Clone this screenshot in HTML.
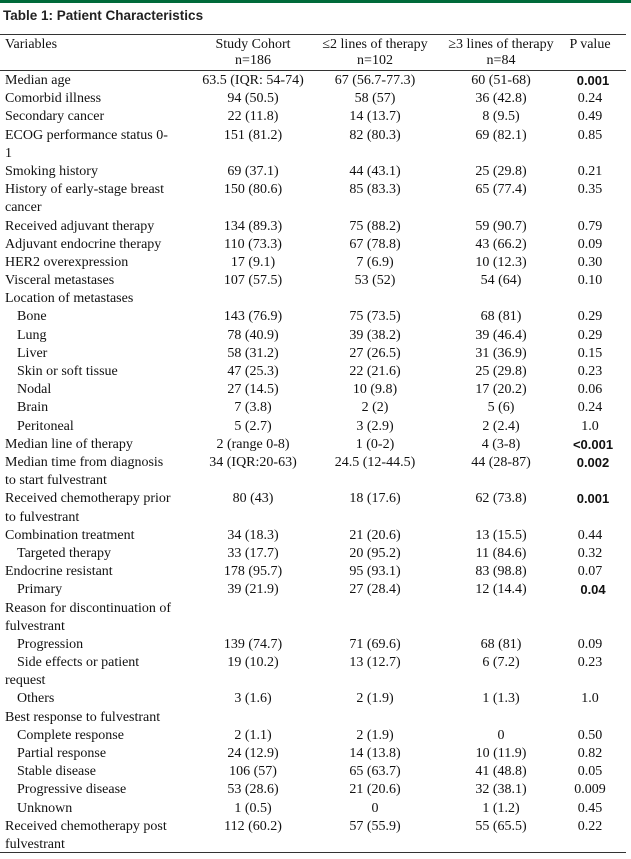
<!DOCTYPE html>
<html><head><meta charset="utf-8"><style>
body{margin:0;width:631px;height:859px;background:#fff;position:relative;overflow:hidden;font-family:"Liberation Serif",serif;font-size:14px;color:#111}
.bar{position:absolute;left:0;top:0;width:631px;height:3px;background:#006a3a}
.title{position:absolute;left:3px;top:8px;font-family:"Liberation Sans",sans-serif;font-weight:bold;font-size:13.5px;color:#222}
.hl{position:absolute;left:0;width:626px;height:1px;background:#333}
.r{position:absolute;left:0;width:631px;height:18.2px;line-height:18.2px;white-space:nowrap}
.r span{position:absolute;top:0}
.a{left:5px}.i{left:17px}
.c1{left:183px;width:140px;text-align:center}
.c2{left:315px;width:120px;text-align:center}
.c3{left:436px;width:130px;text-align:center}
.c4{left:562px;width:56px;text-align:center}
.c4 b{position:relative;left:3px}
b{font-family:"Liberation Sans",sans-serif;font-size:13px}
</style></head><body>
<div class="bar"></div>
<div class="title">Table 1: Patient Characteristics</div>
<div class="hl" style="top:34px"></div>
<div class="r" style="top:36px"><span class="a">Variables</span><span class="c1">Study Cohort</span><span class="c2">≤2 lines of therapy</span><span class="c3">≥3 lines of therapy</span><span class="c4">P value</span></div>
<div class="r" style="top:52px"><span class="c1">n=186</span><span class="c2">n=102</span><span class="c3">n=84</span></div>
<div class="hl" style="top:70px"></div>
<div id="rows"></div>
<div class="hl" style="top:852px"></div>
<script>
var d=[
["a","Median age","63.5 (IQR: 54-74)","67 (56.7-77.3)","60 (51-68)","<b>0.001</b>"],
["a","Comorbid illness","94 (50.5)","58 (57)","36 (42.8)","0.24"],
["a","Secondary cancer","22 (11.8)","14 (13.7)","8 (9.5)","0.49"],
["a","ECOG performance status 0-","151 (81.2)","82 (80.3)","69 (82.1)","0.85"],
["a","1"],
["a","Smoking history","69 (37.1)","44 (43.1)","25 (29.8)","0.21"],
["a","History of early-stage breast","150 (80.6)","85 (83.3)","65 (77.4)","0.35"],
["a","cancer"],
["a","Received adjuvant therapy","134 (89.3)","75 (88.2)","59 (90.7)","0.79"],
["a","Adjuvant endocrine therapy","110 (73.3)","67 (78.8)","43 (66.2)","0.09"],
["a","HER2 overexpression","17 (9.1)","7 (6.9)","10 (12.3)","0.30"],
["a","Visceral metastases","107 (57.5)","53 (52)","54 (64)","0.10"],
["a","Location of metastases"],
["i","Bone","143 (76.9)","75 (73.5)","68 (81)","0.29"],
["i","Lung","78 (40.9)","39 (38.2)","39 (46.4)","0.29"],
["i","Liver","58 (31.2)","27 (26.5)","31 (36.9)","0.15"],
["i","Skin or soft tissue","47 (25.3)","22 (21.6)","25 (29.8)","0.23"],
["i","Nodal","27 (14.5)","10 (9.8)","17 (20.2)","0.06"],
["i","Brain","7 (3.8)","2 (2)","5 (6)","0.24"],
["i","Peritoneal","5 (2.7)","3 (2.9)","2 (2.4)","1.0"],
["a","Median line of therapy","2 (range 0-8)","1 (0-2)","4 (3-8)","<b>&lt;0.001</b>"],
["a","Median time from diagnosis","34 (IQR:20-63)","24.5 (12-44.5)","44 (28-87)","<b>0.002</b>"],
["a","to start fulvestrant"],
["a","Received chemotherapy prior","80 (43)","18 (17.6)","62 (73.8)","<b>0.001</b>"],
["a","to fulvestrant"],
["a","Combination treatment","34 (18.3)","21 (20.6)","13 (15.5)","0.44"],
["i","Targeted therapy","33 (17.7)","20 (95.2)","11 (84.6)","0.32"],
["a","Endocrine resistant","178 (95.7)","95 (93.1)","83 (98.8)","0.07"],
["i","Primary","39 (21.9)","27 (28.4)","12 (14.4)","<b>0.04</b>"],
["a","Reason for discontinuation of"],
["a","fulvestrant"],
["i","Progression","139 (74.7)","71 (69.6)","68 (81)","0.09"],
["i","Side effects or patient","19 (10.2)","13 (12.7)","6 (7.2)","0.23"],
["a","request"],
["i","Others","3 (1.6)","2 (1.9)","1 (1.3)","1.0"],
["a","Best response to fulvestrant"],
["i","Complete response","2 (1.1)","2 (1.9)","0","0.50"],
["i","Partial response","24 (12.9)","14 (13.8)","10 (11.9)","0.82"],
["i","Stable disease","106 (57)","65 (63.7)","41 (48.8)","0.05"],
["i","Progressive disease","53 (28.6)","21 (20.6)","32 (38.1)","0.009"],
["i","Unknown","1 (0.5)","0","1 (1.2)","0.45"],
["a","Received chemotherapy post","112 (60.2)","57 (55.9)","55 (65.5)","0.22"],
["a","fulvestrant"]];
var h="";
d.forEach(function(r,k){var t=72+k*18.19;
h+='<div class="r" style="top:'+t.toFixed(2)+'px"><span class="'+r[0]+'">'+r[1]+'</span>';
if(r.length>2){h+='<span class="c1">'+r[2]+'</span><span class="c2">'+r[3]+'</span><span class="c3">'+r[4]+'</span><span class="c4">'+r[5]+'</span>';}
h+='</div>';});
document.getElementById("rows").innerHTML=h;
</script>
</body></html>
